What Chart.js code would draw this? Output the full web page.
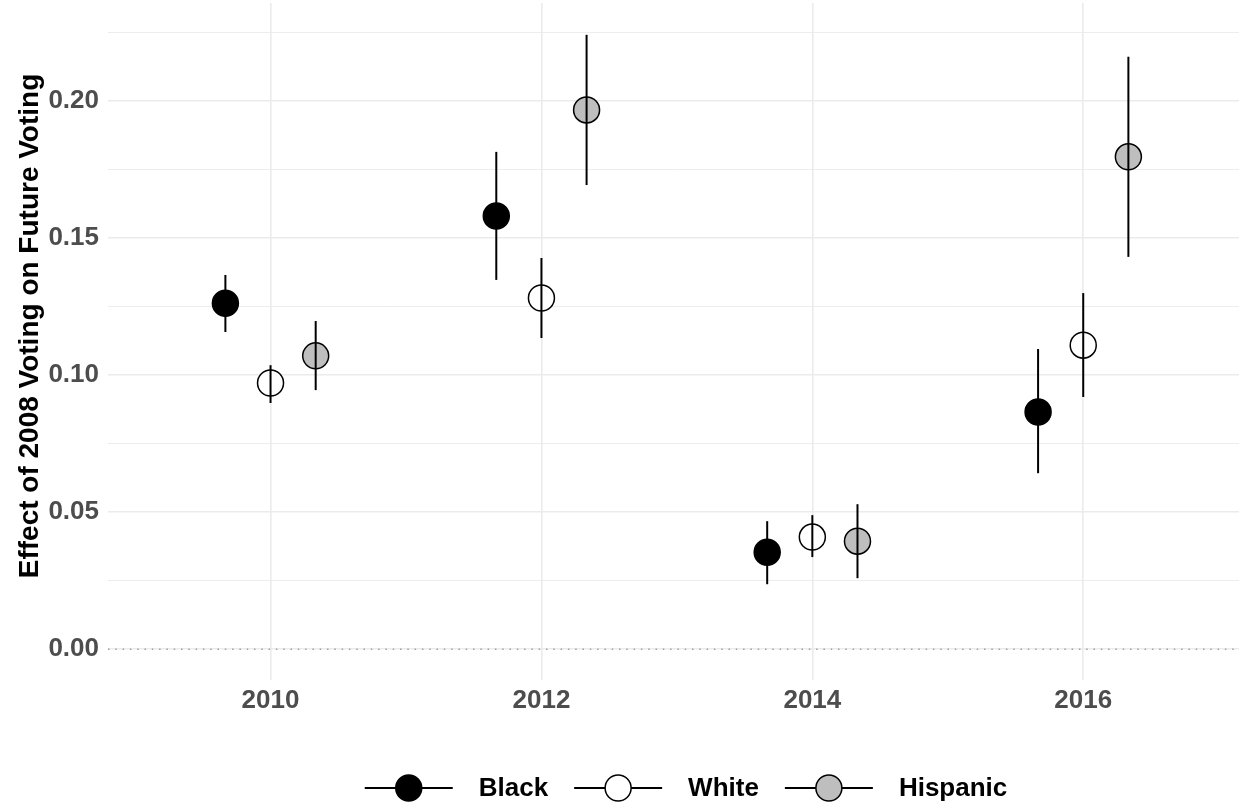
<!DOCTYPE html>
<html>
<head>
<meta charset="utf-8">
<script src="https://cdn.jsdelivr.net/npm/chart.js@4.4.1/dist/chart.umd.min.js"></script>
<style>
  html, body { margin: 0; padding: 0; background: #fff; }
</style>
</head>
<body>
<canvas id="grafico" width="1243" height="810"></canvas>
<script>
// Efeito de ter votado em 2008 sobre a participação futura, por grupo.
// Valores (ponto + intervalo).

const anos = [2010, 2012, 2014, 2016];

const blackEfeito = [0.1262, 0.1580, 0.0354, 0.0865];
const blackInf    = [0.1157, 0.1347, 0.0237, 0.0642];
const blackSup    = [0.1365, 0.1814, 0.0467, 0.1095];

const whiteEfeito = [0.0971, 0.1281, 0.0409, 0.1109];
const whiteInf    = [0.0898, 0.1135, 0.0336, 0.0920];
const whiteSup    = [0.1036, 0.1427, 0.0489, 0.1299];

const hispanicEfeito = [0.1070, 0.1967, 0.0394, 0.1796];
const hispanicInf    = [0.0945, 0.1693, 0.0259, 0.1431];
const hispanicSup    = [0.1197, 0.2241, 0.0529, 0.2161];

const xTicks = [2010, 2012, 2014, 2016];
const yTicks = [0, 0.05, 0.10, 0.15, 0.20];
const yMinor = [0.025, 0.075, 0.125, 0.175, 0.225];

const tituloY = "Effect of 2008 Voting on Future Voting";

// ---------------------------------------------------------------------------
// Helpers
// ---------------------------------------------------------------------------

const FONTE = "'Liberation Sans', Arial, Helvetica, sans-serif";
const CINZA_GRADE = "#ebebeb";

function serie(label, efeito, inf, sup, desloc, cor) {
  return {
    label,
    data: anos.map((a, i) => ({ x: a + desloc, y: efeito[i], lo: inf[i], hi: sup[i] })),
    backgroundColor: cor,
    borderColor: "#000",
    borderWidth: 1.5,
    pointRadius: 13,
    pointHoverRadius: 13,
  };
}

// zera o "respiro" que o Chart.js reserva para rótulos nas bordas
function semPadding(s) {
  s.paddingLeft = 0;
  s.paddingRight = 0;
  s.paddingTop = 0;
  s.paddingBottom = 0;
}

// intervalos verticais, desenhados por cima dos pontos (como no original)
const barrasErro = {
  id: "barrasErro",
  afterDatasetsDraw(chart) {
    const { ctx, scales: { y } } = chart;
    ctx.save();
    ctx.strokeStyle = "#000";
    ctx.lineWidth = 2;
    chart.data.datasets.forEach((ds, di) => {
      chart.getDatasetMeta(di).data.forEach((pt, i) => {
        const d = ds.data[i];
        ctx.beginPath();
        ctx.moveTo(pt.x, y.getPixelForValue(d.lo));
        ctx.lineTo(pt.x, y.getPixelForValue(d.hi));
        ctx.stroke();
      });
    });
    ctx.restore();
  },
};

// linha pontilhada em y = 0
const linhaZero = {
  id: "linhaZero",
  beforeDatasetsDraw(chart) {
    const { ctx, chartArea, scales: { y } } = chart;
    const py = y.getPixelForValue(0);
    ctx.save();
    ctx.strokeStyle = "#a0a0a0";
    ctx.lineWidth = 1.4;
    ctx.setLineDash([1.5, 5.8]);
    ctx.beginPath();
    ctx.moveTo(chartArea.left, py);
    ctx.lineTo(chartArea.right, py);
    ctx.stroke();
    ctx.restore();
  },
};

// título do eixo y e legenda inferior (linha + ponto + rótulo)
const textos = {
  id: "textos",
  afterDraw(chart) {
    const { ctx } = chart;
    ctx.save();
    ctx.fillStyle = "#000";
    ctx.font = `bold 28px ${FONTE}`;
    ctx.translate(38, 326);
    ctx.rotate(-Math.PI / 2);
    ctx.textAlign = "center";
    ctx.textBaseline = "alphabetic";
    ctx.fillText(tituloY, 0, 0);
    ctx.restore();

    ctx.save();
    ctx.font = `bold 26px ${FONTE}`;
    const ds = chart.data.datasets;
    const larguraLinha = 88, gap = 26, cy = 788;
    const total = ds.reduce((s, d) => s + larguraLinha + gap + ctx.measureText(d.label).width, 0)
      + gap * (ds.length - 1);
    let x = 686 - total / 2;
    ds.forEach((d) => {
      ctx.strokeStyle = "#000";
      ctx.lineWidth = 2;
      ctx.beginPath();
      ctx.moveTo(x, cy);
      ctx.lineTo(x + larguraLinha, cy);
      ctx.stroke();
      ctx.beginPath();
      ctx.arc(x + larguraLinha / 2, cy, 13, 0, Math.PI * 2);
      ctx.fillStyle = d.backgroundColor;
      ctx.fill();
      ctx.lineWidth = 1.5;
      ctx.stroke();
      x += larguraLinha + gap;
      ctx.fillStyle = "#000";
      ctx.textBaseline = "middle";
      ctx.fillText(d.label, x, cy + 1);
      x += ctx.measureText(d.label).width + gap;
    });
    ctx.restore();
  },
};

// ---------------------------------------------------------------------------
// Gráfico
// ---------------------------------------------------------------------------

const yTodos = [...yTicks, ...yMinor].sort((a, b) => a - b);
const ehMaior = (v) => yTicks.some((t) => Math.abs(t - v) < 1e-9);

new Chart(document.getElementById("grafico"), {
  type: "scatter",
  data: {
    datasets: [
      serie("Black", blackEfeito, blackInf, blackSup, -1 / 3, "#000000"),
      serie("White", whiteEfeito, whiteInf, whiteSup, 0, "#ffffff"),
      serie("Hispanic", hispanicEfeito, hispanicInf, hispanicSup, 1 / 3, "#bebebe"),
    ],
  },
  options: {
    responsive: false,
    animation: false,
    events: [],
    layout: { autoPadding: false, padding: { top: 3, right: 4, left: 0, bottom: 0 } },
    plugins: { legend: { display: false }, tooltip: { enabled: false } },
    scales: {
      x: {
        type: "linear",
        min: 2008.8,
        max: 2017.15,
        afterBuildTicks: (s) => { s.ticks = xTicks.map((v) => ({ value: v })); },
        afterFit: (s) => { s.height = 130; semPadding(s); },
        ticks: {
          padding: 5,
          color: "#4d4d4d",
          font: { family: FONTE, size: 26, weight: "bold" },
          callback: (v) => String(v),
        },
        grid: { color: CINZA_GRADE, lineWidth: 1.6, drawTicks: false },
        border: { display: false },
      },
      y: {
        min: -0.01123,
        max: 0.2357,
        afterBuildTicks: (s) => { s.ticks = yTodos.map((v) => ({ value: v })); },
        afterFit: (s) => { s.width = 108; semPadding(s); },
        ticks: {
          padding: 9,
          color: "#4d4d4d",
          font: { family: FONTE, size: 26, weight: "bold" },
          callback: (v) => (ehMaior(v) ? v.toFixed(2) : ""),
        },
        grid: {
          color: CINZA_GRADE,
          lineWidth: (c) => (c.tick && ehMaior(c.tick.value) ? 1.6 : 0.9),
          drawTicks: false,
        },
        border: { display: false },
      },
    },
  },
  plugins: [linhaZero, barrasErro, textos],
});
</script>
</body>
</html>
